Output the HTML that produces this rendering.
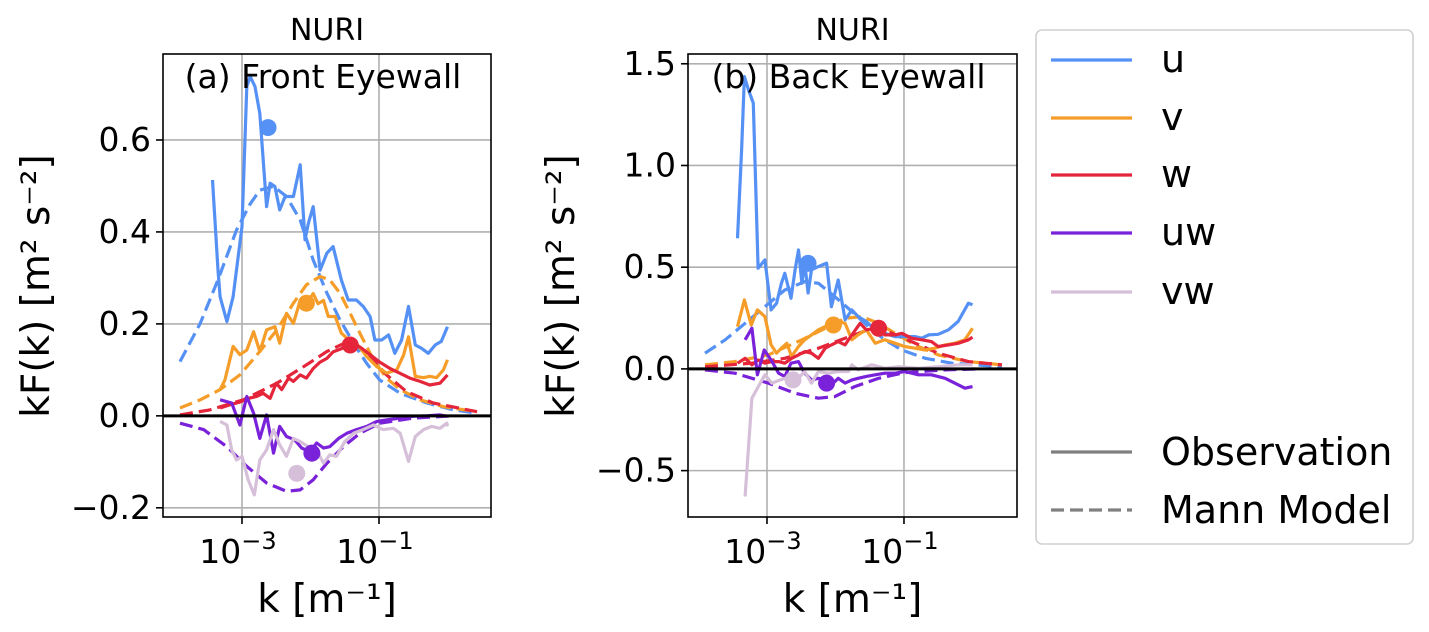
<!DOCTYPE html>
<html><head><meta charset="utf-8">
<style>
body{margin:0;background:#fff;}
svg{display:block;font-family:"DejaVu Sans","Liberation Sans",sans-serif;}
</style></head>
<body>
<svg id="fig" width="1429" height="632" viewBox="0 0 1429 632" xmlns="http://www.w3.org/2000/svg"></svg>
<script>
// ---- Panel (a) data: log10(k) and kF(k) ----
const aUk=[-3.43,-3.35,-3.32,-3.22,-3.13,-3.00,-2.93,-2.88,-2.81,-2.74,-2.64,-2.59,-2.52,-2.45,-2.37,-2.25,-2.15,-2.08,-2.03,-1.96,-1.86,-1.76,-1.67,-1.55,-1.45,-1.33,-1.23,-1.13,-1.06,-0.96,-0.86,-0.77,-0.67,-0.57,-0.47,-0.38,-0.28,-0.18,-0.09,0.0];
const aU=[0.513,0.317,0.259,0.205,0.259,0.412,0.716,0.738,0.716,0.658,0.455,0.506,0.499,0.448,0.477,0.477,0.546,0.383,0.419,0.455,0.317,0.354,0.368,0.296,0.252,0.252,0.238,0.216,0.165,0.165,0.176,0.136,0.165,0.238,0.154,0.147,0.136,0.154,0.162,0.194];
const aVk=[-3.32,-3.25,-3.13,-3.03,-2.93,-2.83,-2.74,-2.64,-2.52,-2.45,-2.35,-2.25,-2.15,-2.06,-1.96,-1.89,-1.81,-1.74,-1.64,-1.55,-1.47,-1.33,-1.18,-1.03,-0.89,-0.74,-0.64,-0.57,-0.47,-0.35,-0.26,-0.16,-0.06,0.0];
const aV=[0.057,0.078,0.151,0.133,0.143,0.183,0.140,0.187,0.194,0.158,0.223,0.201,0.251,0.244,0.266,0.244,0.251,0.216,0.216,0.180,0.169,0.158,0.129,0.107,0.093,0.100,0.133,0.172,0.086,0.083,0.086,0.083,0.100,0.122];
const aWk=[-3.32,-3.18,-3.03,-2.91,-2.79,-2.69,-2.59,-2.50,-2.42,-2.32,-2.25,-2.15,-2.06,-1.96,-1.86,-1.76,-1.67,-1.55,-1.42,-1.28,-1.13,-0.99,-0.84,-0.70,-0.55,-0.40,-0.26,-0.11,0.0];
const aW=[0.017,0.024,0.030,0.038,0.042,0.049,0.038,0.071,0.057,0.082,0.075,0.089,0.082,0.103,0.117,0.125,0.139,0.146,0.157,0.150,0.133,0.117,0.103,0.093,0.082,0.075,0.067,0.071,0.089];
const aUWk=[-3.32,-3.15,-3.03,-2.93,-2.83,-2.74,-2.64,-2.54,-2.45,-2.35,-2.23,-2.13,-2.01,-1.91,-1.81,-1.72,-1.59,-1.47,-1.33,-1.18,-1.03,-0.89,-0.69,-0.50,-0.30,-0.11,0.0];
const aUW=[0.035,0.028,-0.020,0.042,0.006,-0.049,0.002,-0.081,-0.023,-0.045,-0.052,-0.070,-0.078,-0.059,-0.070,-0.067,-0.049,-0.038,-0.030,-0.023,-0.012,-0.009,-0.005,-0.001,0.000,0.002,-0.001];
const aVWk=[-3.32,-3.22,-3.15,-3.08,-3.00,-2.91,-2.82,-2.74,-2.64,-2.54,-2.45,-2.35,-2.25,-2.15,-2.03,-1.91,-1.81,-1.72,-1.62,-1.50,-1.37,-1.23,-1.08,-0.94,-0.79,-0.69,-0.57,-0.47,-0.35,-0.23,-0.11,-0.01,0.0];
const aVW=[-0.012,-0.020,-0.074,-0.096,-0.088,-0.139,-0.172,-0.096,-0.074,-0.030,-0.063,-0.088,-0.049,-0.056,-0.067,-0.074,-0.103,-0.085,-0.088,-0.056,-0.038,-0.030,-0.020,-0.030,-0.027,-0.038,-0.099,-0.045,-0.030,-0.023,-0.027,-0.016,-0.023];
const aMUk=[-3.905,-3.61,-3.35,-3.08,-2.88,-2.74,-2.54,-2.35,-2.15,-1.96,-1.76,-1.57,-1.37,-1.18,-0.99,-0.69,-0.30,0.09,0.43];
const aMU=[0.118,0.201,0.296,0.404,0.461,0.491,0.499,0.477,0.426,0.339,0.267,0.209,0.158,0.114,0.078,0.049,0.028,0.013,0.006];
const aMVk=[-3.905,-3.61,-3.32,-3.03,-2.74,-2.49,-2.25,-2.06,-1.86,-1.72,-1.57,-1.42,-1.28,-1.08,-0.89,-0.69,-0.40,-0.06,0.43];
const aMV=[0.017,0.035,0.057,0.089,0.140,0.187,0.245,0.285,0.303,0.296,0.267,0.223,0.180,0.122,0.082,0.057,0.035,0.020,0.009];
const aMWk=[-3.905,-3.47,-2.98,-2.49,-2.10,-1.76,-1.52,-1.33,-1.13,-0.89,-0.60,-0.21,0.43];
const aMW=[0.002,0.013,0.035,0.071,0.107,0.140,0.157,0.154,0.129,0.089,0.053,0.028,0.009];
const aMUWk=[-3.905,-3.56,-3.22,-2.93,-2.64,-2.35,-2.15,-1.96,-1.76,-1.52,-1.28,-0.99,-0.50,0.09];
const aMUW=[-0.016,-0.030,-0.067,-0.110,-0.146,-0.164,-0.161,-0.139,-0.103,-0.067,-0.038,-0.016,-0.005,0.0];
const aDotK=[-2.62,-2.06,-1.42,-1.98,-2.20];
const aDotV=[0.627,0.245,0.154,-0.081,-0.125];

// ---- Panel (b) data ----
const bUk=[-3.43,-3.37,-3.33,-3.27,-3.20,-3.13,-3.03,-2.94,-2.86,-2.79,-2.74,-2.65,-2.59,-2.54,-2.49,-2.45,-2.40,-2.35,-2.25,-2.13,-2.06,-1.96,-1.86,-1.76,-1.67,-1.55,-1.42,-1.28,-1.13,-0.99,-0.84,-0.74,-0.64,-0.50,-0.35,-0.21,-0.06,0.0];
const bU=[0.642,1.076,1.437,1.372,1.306,0.495,0.536,0.290,0.323,0.421,0.470,0.347,0.487,0.585,0.421,0.520,0.373,0.487,0.503,0.520,0.306,0.437,0.241,0.290,0.257,0.233,0.192,0.175,0.159,0.159,0.159,0.151,0.167,0.170,0.192,0.233,0.323,0.315];
const bVk=[-3.43,-3.33,-3.23,-3.14,-3.03,-2.94,-2.86,-2.79,-2.71,-2.64,-2.54,-2.45,-2.35,-2.25,-2.15,-2.06,-1.96,-1.86,-1.76,-1.67,-1.55,-1.42,-1.28,-1.13,-0.99,-0.84,-0.69,-0.55,-0.40,-0.26,-0.11,0.0];
const bV=[0.208,0.339,0.216,0.290,0.257,0.118,0.077,0.102,0.126,0.061,0.110,0.143,0.167,0.192,0.208,0.216,0.233,0.224,0.143,0.167,0.192,0.126,0.143,0.126,0.110,0.102,0.093,0.102,0.118,0.126,0.143,0.200];
const bWk=[-3.43,-3.32,-3.22,-3.13,-3.03,-2.93,-2.83,-2.74,-2.64,-2.54,-2.45,-2.35,-2.25,-2.15,-2.06,-1.96,-1.86,-1.76,-1.64,-1.55,-1.40,-1.28,-1.13,-1.03,-0.89,-0.74,-0.60,-0.50,-0.35,-0.21,-0.06,0.0];
const bW=[0.028,0.052,0.020,0.044,0.028,0.036,0.036,0.028,0.052,0.069,0.085,0.077,0.052,0.102,0.118,0.134,0.118,0.167,0.224,0.192,0.200,0.167,0.167,0.175,0.151,0.143,0.134,0.110,0.118,0.126,0.143,0.156];
const bUWk=[-3.32,-3.22,-3.14,-3.04,-2.94,-2.83,-2.74,-2.65,-2.54,-2.45,-2.35,-2.25,-2.15,-2.06,-1.96,-1.86,-1.76,-1.67,-1.55,-1.42,-1.28,-1.13,-0.99,-0.79,-0.60,-0.40,-0.26,-0.11,0.0];
const bUW=[0.143,0.200,-0.029,0.093,0.044,-0.021,-0.037,0.028,0.036,-0.021,-0.054,-0.046,-0.054,-0.079,-0.046,-0.070,-0.054,-0.046,-0.037,-0.029,-0.021,-0.021,-0.013,-0.029,-0.029,-0.046,-0.070,-0.095,-0.087];
const bVWk=[-3.32,-3.22,-3.03,-2.93,-2.74,-2.59,-2.45,-2.35,-2.25,-2.10,-1.96,-1.81,-1.76,-1.67,-1.47,-1.28,-1.08,-0.79,-0.50,-0.21,0.0];
const bVW=[-0.627,-0.144,-0.029,-0.070,-0.046,-0.062,-0.013,-0.070,-0.013,-0.021,-0.013,-0.013,0.020,-0.005,0.020,0.003,0.011,0.003,0.011,0.020,0.020];
const bMUk=[-3.905,-3.61,-3.32,-3.03,-2.74,-2.45,-2.25,-2.01,-1.76,-1.52,-1.28,-1.03,-0.69,-0.30,0.43];
const bMU=[0.077,0.143,0.224,0.306,0.388,0.429,0.421,0.355,0.282,0.208,0.143,0.093,0.052,0.028,0.011];
const bMVk=[-3.905,-3.47,-2.98,-2.49,-2.10,-1.86,-1.62,-1.37,-1.13,-0.84,-0.50,-0.06,0.43];
const bMV=[0.020,0.036,0.069,0.143,0.208,0.249,0.257,0.224,0.175,0.118,0.069,0.036,0.020];
const bMWk=[-3.905,-3.22,-2.74,-2.25,-1.86,-1.52,-1.23,-0.89,-0.50,-0.06,0.43];
const bMW=[0.011,0.028,0.052,0.102,0.151,0.192,0.183,0.134,0.077,0.036,0.020];
const bMUWk=[-3.905,-3.47,-2.98,-2.59,-2.25,-2.01,-1.72,-1.37,-0.99,-0.40,0.09];
const bMUW=[-0.005,-0.021,-0.070,-0.120,-0.144,-0.136,-0.087,-0.046,-0.018,-0.005,0.0];
const bDotK=[-2.40,-2.03,-1.37,-2.13,-2.62];
const bDotV=[0.519,0.216,0.200,-0.070,-0.054];

const aYTicks=[-0.2,0.0,0.2,0.4,0.6];
const aYLabels=["\u22120.2","0.0","0.2","0.4","0.6"];
const bYTicks=[-0.5,0.0,0.5,1.0,1.5];
const bYLabels=["\u22120.5","0.0","0.5","1.0","1.5"];
const xTicks=[-3,-1];
const xTickExp=["\u22123","\u22121"];
const seriesNames=["u","v","w","uw","vw"];
const colors=["#5591f5","#f59d28","#e4253a","#7a22d9","#d6bfd9"];

const NS="http://www.w3.org/2000/svg";
const svg=document.getElementById('fig');
function mk(tag,attrs,parent){const e=document.createElementNS(NS,tag);for(const k in attrs)e.setAttribute(k,attrs[k]);(parent||svg).appendChild(e);return e;}

function panel(p){
  const g=mk('g',{});
  
  
  const L=p.left,R=p.right,T=54,B=517;
  const xs=v=>L+(v-p.xmin)/(p.xmax-p.xmin)*(R-L);
  const ys=v=>B-(v-p.ymin)/(p.ymax-p.ymin)*(B-T);
  xTicks.forEach((t,i)=>{
    const gl=mk('line',{x1:xs(t),x2:xs(t),y1:T,y2:B,stroke:'#b0b0b0','stroke-width':1.6},g);
    
    
    mk('line',{x1:xs(t),x2:xs(t),y1:B,y2:B+7,stroke:'#000','stroke-width':1.6},g);
    const tx=mk('text',{x:xs(t)-4,y:B+46,'font-size':33,'text-anchor':'middle'},g);
    
    
    tx.textContent='10';
    const sp=mk('tspan',{dy:-14,'font-size':24},tx);sp.textContent=xTickExp[i];
  });
  p.yt.forEach((t,i)=>{
    const gl=mk('line',{x1:L,x2:R,y1:ys(t),y2:ys(t),stroke:'#b0b0b0','stroke-width':1.6},g);
    
    
    mk('line',{x1:L-7,x2:L,y1:ys(t),y2:ys(t),stroke:'#000','stroke-width':1.6},g);
    const tx=mk('text',{x:L-12,y:ys(t)+11,'font-size':33,'text-anchor':'end'},g);
    
    
    tx.textContent=p.yl[i];
  });
  const clipId='clip'+p.id;
  const cp=mk('clipPath',{id:clipId},g);mk('rect',{x:L,y:T,width:R-L,height:B-T},cp);
  const plot=mk('g',{'clip-path':'url(#'+clipId+')'},g);
  function line(ks,vs,ci,dash,nm){
    const d=ks.map((k,i)=>(i?'L':'M')+xs(k).toFixed(1)+','+ys(vs[i]).toFixed(1)).join('');
    const pth=mk('path',{d:d,fill:'none',stroke:colors[ci],'stroke-width':3.2,'stroke-linejoin':'round'},plot);
    if(dash)pth.setAttribute('stroke-dasharray','13,6');
    
    
  }
  p.mann.forEach((m,i)=>line(m[0],m[1],m[2],true,'mann-'+seriesNames[m[2]]));
  p.obs.forEach((o,i)=>line(o[0],o[1],i,false,'obs-'+seriesNames[i]));
  p.dk.forEach((k,i)=>{
    const c=mk('circle',{cx:xs(k),cy:ys(p.dv[i]),r:8.5,fill:colors[i]},plot);
    
    
  });
  const z=mk('line',{x1:L,x2:R,y1:ys(0),y2:ys(0),stroke:'#000','stroke-width':3},plot);
  
  
  const fr=mk('rect',{x:L,y:T,width:R-L,height:B-T,fill:'none',stroke:'#000','stroke-width':1.6},g);
  
  
  const ti=mk('text',{x:(L+R)/2,y:40,'font-size':30,'text-anchor':'middle'},g);
  
  
  ti.textContent='NURI';
  const lab=mk('text',{x:(L+R)/2-4,y:88,'font-size':33,'text-anchor':'middle'},g);
  
  
  lab.textContent=p.label;
  const xl=mk('text',{x:(L+R)/2,y:612,'font-size':39,'text-anchor':'middle'},g);
  
  
  xl.textContent='k [m\u207B\u00B9]';
  const yl=mk('text',{x:0,y:0,'font-size':39,'text-anchor':'middle',transform:'translate('+p.ylx+',286) rotate(-90)'},g);
  
  
  yl.textContent='kF(k) [m\u00B2 s\u207B\u00B2]';
}

panel({id:'a',name:'panel-front-eyewall',left:163,right:491,xmin:-4.153,xmax:0.635,ymin:-0.220,ymax:0.787,yt:aYTicks,yl:aYLabels,label:'(a) Front Eyewall',ylx:49,
  obs:[[aUk,aU],[aVk,aV],[aWk,aW],[aUWk,aUW],[aVWk,aVW]],
  mann:[[aMUk,aMU,0],[aMVk,aMV,1],[aMWk,aMW,2],[aMUWk,aMUW,3]],dk:aDotK,dv:aDotV});
panel({id:'b',name:'panel-back-eyewall',left:688,right:1017,xmin:-4.153,xmax:0.65,ymin:-0.728,ymax:1.548,yt:bYTicks,yl:bYLabels,label:'(b) Back Eyewall',ylx:574,
  obs:[[bUk,bU],[bVk,bV],[bWk,bW],[bUWk,bUW],[bVWk,bVW]],
  mann:[[bMUk,bMU,0],[bMVk,bMV,1],[bMWk,bMW,2],[bMUWk,bMUW,3]],dk:bDotK,dv:bDotV});

const lg=mk('g',{});


mk('rect',{x:1036,y:30,width:377,height:514,rx:6,fill:'#fff',stroke:'#d0d0d0','stroke-width':1.6},lg);
const legY=[60,118,175,233,292];
seriesNames.forEach((n,i)=>{
  const e=mk('g',{},lg);
  
  
  mk('line',{x1:1051,x2:1132,y1:legY[i],y2:legY[i],stroke:colors[i],'stroke-width':3.2},e);
  const t=mk('text',{x:1161,y:legY[i]+12,'font-size':38},e);t.textContent=n;
});
[['Observation',452,false],['Mann Model',510,true]].forEach(r=>{
  const e=mk('g',{},lg);
  
  
  const l=mk('line',{x1:1051,x2:1132,y1:r[1],y2:r[1],stroke:'#808080','stroke-width':3.2},e);
  if(r[2])l.setAttribute('stroke-dasharray','13,6');
  const t=mk('text',{x:1161,y:r[1]+13,'font-size':38},e);t.textContent=r[0];
});
</script>
</body></html>
